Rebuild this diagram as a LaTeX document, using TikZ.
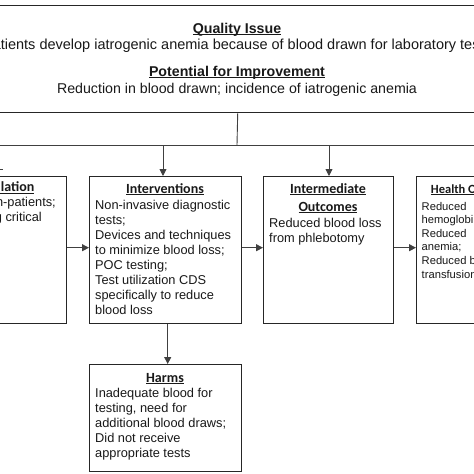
\documentclass[tikz,border=0pt]{standalone}
\usepackage{fontspec}
\setmainfont{Liberation Sans}
\newfontfamily\calfont{Carlito}
\usetikzlibrary{arrows.meta}
\newcommand\uline[1]{\setbox0\hbox{#1}\rlap{\rule[-1.8pt]{\wd0}{0.9pt}}\box0}
\begin{document}
\begin{tikzpicture}[x=1pt,y=-1pt,
  box/.style={draw=black!85, line width=1.4pt, inner sep=0pt, anchor=north west},
  conn/.style={draw=black!75, line width=0.9pt},
  arr/.style={conn, -{Triangle[length=7pt,width=7pt]}},
  body/.style={inner sep=0pt, anchor=base west, align=left, font=\fontsize{12.8}{15}\selectfont, text=black!90},
  head/.style={inner sep=0pt, anchor=base, font=\calfont\bfseries\fontsize{14}{18}\selectfont, text=black!90},
  toptext/.style={inner sep=0pt, anchor=base, font=\fontsize{14.2}{17}\selectfont, text=black!90},
]
\useasboundingbox (0,0) rectangle (474,474);
\fill[white] (0,0) rectangle (474,474);
\clip (0,0) rectangle (474,474);
% boxes
\node[box, minimum width=520, minimum height=107.5] (qi) at (-23,4.5) {};
\node[box, minimum width=156, minimum height=147] (pop) at (-90,176) {};
\node[box, minimum width=152, minimum height=147] (int) at (89,176) {};
\node[box, minimum width=130, minimum height=147] (imo) at (263,176) {};
\node[box, minimum width=130, minimum height=147] (hlt) at (416,176) {};
\node[box, minimum width=152, minimum height=107] (harm) at (89,364) {};
% bus and connectors
\coordinate (bus) at (237,145);
\coordinate (busL) at (-20,145);
\coordinate (busR) at (494,145);
\coordinate (b1) at (163,145);
\coordinate (b2) at (329,145);
\coordinate (t1) at (-2,169);
\coordinate (t2) at (3,169);
\draw[conn] (qi.south) -- (bus);
\draw[conn] (busL) -- (busR);
\draw[arr] (b1) -- (b1 |- int.north);
\draw[arr] (b2) -- (b2 |- imo.north);
\draw[conn] (t1) -- (t2);
\draw[arr] ([yshift=2.5]pop.east) -- ([yshift=2.5]int.west);
\draw[arr] ([yshift=2.5]int.east) -- ([yshift=2.5]imo.west);
\draw[arr] ([yshift=2.5]imo.east) -- ([yshift=2.5]hlt.west);
\draw[arr] ([xshift=2]int.south) -- ([xshift=2]harm.north);
% top texts
\node[toptext, font=\bfseries\fontsize{14.2}{17}\selectfont] (qih) at (237,33) {\uline{Quality Issue}};
\node[toptext, font=\fontsize{14.5}{17}\selectfont] (qit) at (237,49) {Patients develop iatrogenic anemia because of blood drawn for laboratory tests};
\node[toptext, font=\bfseries\fontsize{14.2}{17}\selectfont] (pih) at (237,76) {\uline{Potential for Improvement}};
\node[toptext] (pit) at (237,93) {Reduction in blood drawn; incidence of iatrogenic anemia};
% population
\node[head, anchor=base east] (poph) at (34.5,191.7) {\uline{Population}};
\node[body, anchor=base east] (pop1) at (56,206.7) {Adult in-patients;};
\node[body, anchor=base east] (pop2) at (42,221.7) {including critical};
% interventions (base = last line)
\node[head] (inth) at (165,193) {\uline{Interventions}};
\node[body] (intt) at (95,314.5) {Non-invasive diagnostic\\tests;\\Devices and techniques\\to minimize blood loss;\\POC testing;\\Test utilization CDS\\specifically to reduce\\blood loss};
% intermediate
\node[head] (imoh1) at (328,193) {\uline{Intermediate}};
\node[head] (imoh2) at (328,211) {\uline{Outcomes}};
\node[body] (imot) at (269,242) {Reduced blood loss\\from phlebotomy};
% health outcomes
\node[head, anchor=base west, font=\calfont\bfseries\fontsize{12.5}{15}\selectfont] (hlth) at (430.7,193) {\uline{Health Outcomes}};
\node[body, font=\fontsize{11.2}{13.6}\selectfont] (hltt) at (421.5,278) {Reduced\\hemoglobin decline;\\Reduced\\anemia;\\Reduced blood\\transfusions};
% harms
\node[head] (harmh) at (165,382.5) {\uline{Harms}};
\node[body] (harmt) at (95,457.5) {Inadequate blood for\\testing, need for\\additional blood draws;\\Did not receive\\appropriate tests};
\end{tikzpicture}
\end{document}
